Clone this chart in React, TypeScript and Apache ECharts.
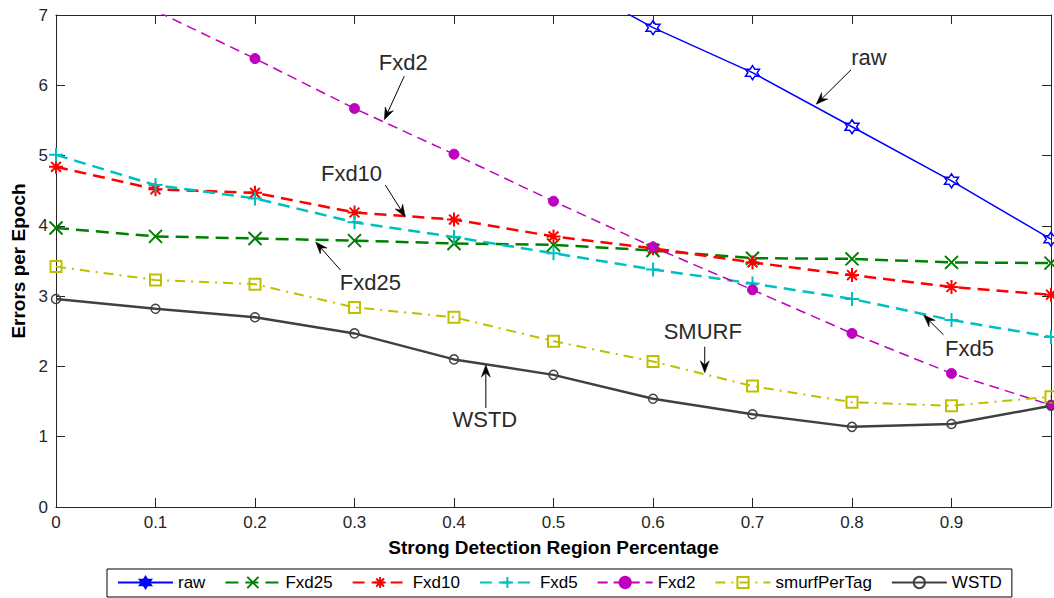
import React, { useEffect, useRef } from "react";
import * as echarts from "echarts";

const FONT = '"Liberation Sans", Arial, Helvetica, sans-serif';
const AXIS_COLOR = "#262626";

// ---- data ----
const xValues = [0, 0.1, 0.2, 0.3, 0.4, 0.5, 0.6, 0.7, 0.8, 0.9, 1.0];
const rawVals = [null, null, null, null, null, 7.6, 6.82, 6.18, 5.41, 4.64, 3.81];
const fxd25Vals = [3.97, 3.85, 3.82, 3.79, 3.75, 3.73, 3.65, 3.54, 3.53, 3.48, 3.47];
const fxd10Vals = [4.84, 4.52, 4.47, 4.19, 4.09, 3.85, 3.68, 3.48, 3.3, 3.13, 3.02];
const fxd5Vals = [5.01, 4.58, 4.39, 4.05, 3.84, 3.61, 3.38, 3.18, 2.96, 2.66, 2.42];
const fxd2Vals = [7.7, 7.06, 6.38, 5.67, 5.02, 4.35, 3.7, 3.09, 2.47, 1.9, 1.45];
const smurfVals = [3.42, 3.23, 3.17, 2.84, 2.7, 2.36, 2.07, 1.72, 1.49, 1.44, 1.57];
const wstdVals = [2.96, 2.82, 2.7, 2.47, 2.1, 1.88, 1.54, 1.32, 1.14, 1.18, 1.44];

const seriesNames = ["raw", "Fxd25", "Fxd10", "Fxd5", "Fxd2", "smurfPerTag", "WSTD"];
const xTicks = [0, 0.1, 0.2, 0.3, 0.4, 0.5, 0.6, 0.7, 0.8, 0.9];
const yTicks = [0, 1, 2, 3, 4, 5, 6, 7];

// annotation: label, text position, arrow tail, arrow tip (data coords)
const annLabels = ["Fxd2", "Fxd10", "Fxd25", "raw", "SMURF", "Fxd5", "WSTD"];
const annText = [[0.349, 6.33], [0.297, 4.75], [0.316, 3.19], [0.817, 6.4], [0.65, 2.49], [0.918, 2.26], [0.431, 1.24]];
const annTail = [[0.35, 6.13], [0.331, 4.58], [0.286, 3.37], [0.799, 6.22], [0.652, 2.28], [0.892, 2.45], [0.432, 1.41]];
const annTip = [[0.33, 5.51], [0.351, 4.13], [0.261, 3.77], [0.764, 5.73], [0.652, 1.91], [0.872, 2.73], [0.432, 2.02]];

const HEXAGRAM =
  "path://M10,0L12.89,5L18.66,5L15.77,10L18.66,15L12.89,15L10,20L7.11,15L1.34,15L4.23,10L1.34,5L7.11,5Z";
const XMARK = "path://M0,0L10,10M10,0L0,10";
const PLUS = "path://M5,0L5,10M0,5L10,5";
const ASTER = "path://M5,0L5,10M0,5L10,5M1.5,1.5L8.5,8.5M8.5,1.5L1.5,8.5";

function pairs(vals: (number | null)[]) {
  return xValues.map((x, i) => [x, vals[i]]);
}

function mkSeries(
  name: string,
  vals: (number | null)[],
  color: string,
  width: number,
  type: any,
  symbol: string,
  symbolSize: number,
  fill: string,
  borderWidth: number
) {
  return {
    name,
    type: "line",
    data: pairs(vals),
    color,
    symbol,
    symbolSize,
    showAllSymbol: true,
    clip: true,
    lineStyle: { color, width, type },
    itemStyle: { color: fill, borderColor: color, borderWidth },
    emphasis: { disabled: true },
    z: 3,
  };
}

export default function App() {
  const ref = useRef<HTMLDivElement>(null);

  useEffect(() => {
    if (!ref.current) return;
    const chart = echarts.init(ref.current, null, { renderer: "svg" });

    const tickLabel = { fontFamily: FONT, fontSize: 17, color: AXIS_COLOR };
    const nameStyle = { fontFamily: FONT, fontSize: 19, fontWeight: "bold" as const, color: "#000" };

    const option: any = {
      animation: false,
      backgroundColor: "#fff",
      grid: {
        left: 56,
        top: 15,
        width: 1000,
        height: 492,
        show: false,
      },
      xAxis: [
        {
          type: "value",
          min: 0,
          max: 1,
          interval: 0.1,
          position: "bottom",
          name: "Strong Detection Region Percentage",
          nameLocation: "middle",
          nameGap: 31,
          nameTextStyle: nameStyle,
          axisLine: { show: true, lineStyle: { color: AXIS_COLOR, width: 1 } },
          axisTick: { show: true, inside: true, length: 9, lineStyle: { color: AXIS_COLOR } },
          axisLabel: {
            ...tickLabel,
            margin: 7,
            formatter: (v: number) => {
              const r = Math.round(v * 10) / 10;
              return xTicks.indexOf(r) >= 0 ? String(r) : "";
            },
          },
          splitLine: { show: false },
        },
        {
          type: "value",
          min: 0,
          max: 1,
          interval: 0.1,
          position: "top",
          axisLine: { show: true, onZero: false, lineStyle: { color: AXIS_COLOR, width: 1 } },
          axisTick: { show: true, inside: true, length: 9, lineStyle: { color: AXIS_COLOR } },
          axisLabel: { show: false },
          splitLine: { show: false },
        },
      ],
      yAxis: [
        {
          type: "value",
          min: 0,
          max: 7,
          interval: 1,
          position: "left",
          name: "Errors per Epoch",
          nameLocation: "middle",
          nameGap: 26,
          nameTextStyle: nameStyle,
          axisLine: { show: true, lineStyle: { color: AXIS_COLOR, width: 1 } },
          axisTick: { show: true, inside: true, length: 9, lineStyle: { color: AXIS_COLOR } },
          axisLabel: {
            ...tickLabel,
            margin: 8,
            formatter: (v: number) => (yTicks.indexOf(v) >= 0 ? String(v) : ""),
          },
          splitLine: { show: false },
        },
        {
          type: "value",
          min: 0,
          max: 7,
          interval: 1,
          position: "right",
          axisLine: { show: true, onZero: false, lineStyle: { color: AXIS_COLOR, width: 1 } },
          axisTick: { show: true, inside: true, length: 9, lineStyle: { color: AXIS_COLOR } },
          axisLabel: { show: false },
          splitLine: { show: false },
        },
      ],
      legend: {
        left: 107,
        top: 569,
        orient: "horizontal",
        itemWidth: 55,
        itemHeight: 14,
        itemGap: 19,
        padding: [5, 10, 6, 10],
        borderColor: "#000",
        borderWidth: 1,
        backgroundColor: "#fff",
        selectedMode: false,
        textStyle: { fontFamily: FONT, fontSize: 17, color: "#000" },
        data: [
          { name: seriesNames[0], itemStyle: { color: "#0000ff" } },
          { name: seriesNames[1] },
          { name: seriesNames[2] },
          { name: seriesNames[3] },
          { name: seriesNames[4] },
          { name: seriesNames[5] },
          { name: seriesNames[6] },
        ],
      },
      series: [
        mkSeries(seriesNames[0], rawVals, "#0000ff", 1.5, "solid", HEXAGRAM, 14, "rgba(0,0,0,0)", 1.5),
        mkSeries(seriesNames[1], fxd25Vals, "#008000", 2.5, [13, 7], XMARK, 13, "rgba(0,0,0,0)", 2),
        mkSeries(seriesNames[2], fxd10Vals, "#ff0000", 2.5, [12, 7], ASTER, 14, "rgba(0,0,0,0)", 2),
        mkSeries(seriesNames[3], fxd5Vals, "#00bfbf", 2.5, [12, 7], PLUS, 14, "rgba(0,0,0,0)", 2),
        mkSeries(seriesNames[4], fxd2Vals, "#bf00bf", 1.5, [10, 6], "circle", 10, "#bf00bf", 1),
        mkSeries(seriesNames[5], smurfVals, "#bfbf00", 2, [10, 6, 2, 6], "rect", 11, "rgba(0,0,0,0)", 2),
        mkSeries(seriesNames[6], wstdVals, "#404040", 2.5, "solid", "circle", 9, "rgba(0,0,0,0)", 1.5),
      ],
    };

    chart.setOption(option);

    // annotations (text + arrows), positioned through the data coordinate system
    const els: any[] = [];
    annLabels.forEach((label, i) => {
      const t = chart.convertToPixel({ seriesIndex: 1 }, annText[i]) as number[];
      const a = chart.convertToPixel({ seriesIndex: 1 }, annTail[i]) as number[];
      const p = chart.convertToPixel({ seriesIndex: 1 }, annTip[i]) as number[];
      const dx = p[0] - a[0];
      const dy = p[1] - a[1];
      const len = Math.sqrt(dx * dx + dy * dy) || 1;
      const ux = dx / len;
      const uy = dy / len;
      const nx = -uy;
      const ny = ux;
      const L = 12;
      const W = 4.5;
      const bx = p[0] - ux * L;
      const by = p[1] - uy * L;
      const notchX = p[0] - ux * (L - 4);
      const notchY = p[1] - uy * (L - 4);
      els.push({
        type: "line",
        z: 100,
        shape: { x1: a[0], y1: a[1], x2: notchX, y2: notchY },
        style: { stroke: "#000", lineWidth: 1 },
        silent: true,
      });
      els.push({
        type: "polygon",
        z: 100,
        shape: {
          points: [
            [p[0], p[1]],
            [bx + nx * W, by + ny * W],
            [notchX, notchY],
            [bx - nx * W, by - ny * W],
          ],
        },
        style: { fill: "#000", stroke: "#000", lineWidth: 0.5 },
        silent: true,
      });
      els.push({
        type: "text",
        z: 100,
        x: t[0],
        y: t[1],
        style: {
          text: label,
          fontFamily: FONT,
          fontSize: 22,
          fill: "#2a2a2a",
          align: "center",
          verticalAlign: "middle",
        },
        silent: true,
      });
    });
    chart.setOption({ graphic: els });

    return () => {
      chart.dispose();
    };
  }, []);

  return (
    <div
      ref={ref}
      style={{ position: "absolute", left: 0, top: 0, width: 1054, height: 598, background: "#fff" }}
    />
  );
}
